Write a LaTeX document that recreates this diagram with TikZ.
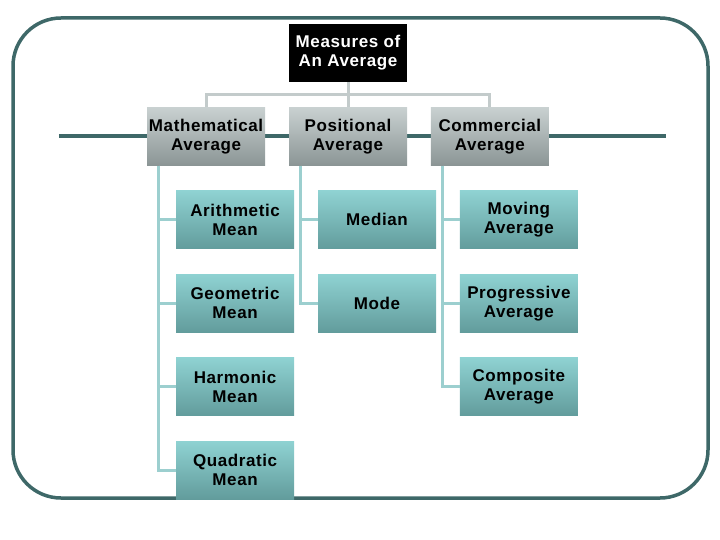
\documentclass[tikz,border=0pt]{standalone}
\usepackage{fontspec}
\setmainfont[LetterSpace=3.5]{Liberation Sans}
\usetikzlibrary{positioning, backgrounds}
\definecolor{framegreen}{HTML}{3E6868}
\definecolor{linkgray}{HTML}{C3CBCB}
\definecolor{linkteal}{HTML}{9CCFCF}
\definecolor{headtop}{HTML}{C9D1D1}
\definecolor{headbot}{HTML}{8B9595}
\definecolor{boxtop}{HTML}{8FD2D2}
\definecolor{boxbot}{HTML}{629C9C}
\begin{document}
\begin{tikzpicture}[
    x=1pt, y=-1pt,
    node distance=25pt and 23.5pt,
    every node/.style={font=\fontsize{17}{19}\selectfont\bfseries, align=center, inner sep=0pt},
    root/.style={fill=black, text=white, minimum width=118pt, minimum height=58pt},
    group/.style={top color=headtop, bottom color=headbot, minimum width=118pt, minimum height=58pt},
    item/.style={top color=boxtop, bottom color=boxbot, minimum width=118pt, minimum height=58pt},
    tree/.style={draw=linkgray, line width=3pt},
    branch/.style={draw=linkteal, line width=3pt}
]
    \useasboundingbox (0,0) rectangle (720,540);

    \node[root] (avg) at (348,53) {Measures of\\An Average};
    \node[group, below=of avg] (pos) {Positional\\Average};
    \node[group, left=of pos] (math) {Mathematical\\Average};
    \node[group, right=of pos] (comm) {Commercial\\Average};

    \node[item, below=of math, xshift=29pt] (arith) {Arithmetic\\Mean};
    \node[item, below=of arith] (geom) {Geometric\\Mean};
    \node[item, below=of geom] (harm) {Harmonic\\Mean};
    \node[item, below=of harm] (quad) {Quadratic\\Mean};

    \node[item, below=of pos, xshift=29pt] (median) {Median};
    \node[item, below=of median] (mode) {Mode};

    \node[item, below=of comm, xshift=29pt] (moving) {Moving\\Average};
    \node[item, below=of moving] (prog) {Progressive\\Average};
    \node[item, below=of prog] (comp) {Composite\\Average};

    % frame and backbone behind the boxes
    \begin{scope}[on background layer]
        \draw[framegreen, line width=3.5pt, rounded corners=48pt] (13,18) rectangle (708,498);
        \draw[framegreen, line width=4pt] ([xshift=-88pt]math.west) -- ([xshift=117pt]comm.east);
    \end{scope}

    \draw[tree] (avg.south) -- (pos.north);
    \draw[tree] (math.north) -- ++(0,-12.5) -| (comm.north);

    \foreach \n in {arith,geom,harm,quad}
        \draw[branch] ([xshift=12pt]math.south west) |- (\n.west);
    \foreach \n in {median,mode}
        \draw[branch] ([xshift=12pt]pos.south west) |- (\n.west);
    \foreach \n in {moving,prog,comp}
        \draw[branch] ([xshift=12pt]comm.south west) |- (\n.west);
\end{tikzpicture}
\end{document}
